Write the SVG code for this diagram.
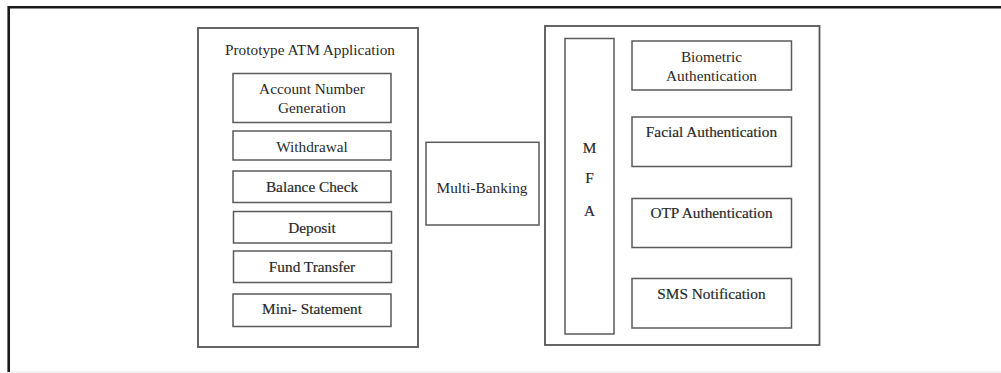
<svg xmlns="http://www.w3.org/2000/svg" width="1001" height="373" viewBox="0 0 1001 373">
  <style>
    .frame { fill: none; stroke: #1a1a1a; stroke-width: 2.6; }
    .panel { fill: #ffffff; stroke: #555555; stroke-width: 1.8; }
    .box { fill: #ffffff; stroke: #5a5a5a; stroke-width: 1.5; }
    .lbl { font-family: "Liberation Serif", "Times New Roman", serif; font-size: 15.3px; fill: #2a2a2a; text-anchor: middle; }
    .heavy { stroke: #2a2a2a; stroke-width: 0.2; }
  </style>
  <rect width="1001" height="373" fill="#ffffff"/>

  <!-- outer frame: top and left rule, faint bottom rule -->
  <g id="frame">
    <line x1="8.7" y1="7.2" x2="1001" y2="7.2" class="frame"/>
    <line x1="8.7" y1="6" x2="8.7" y2="372" class="frame"/>
    <line x1="10" y1="372" x2="1001" y2="372" stroke="#e6e6e6" stroke-width="1"/>
  </g>

  <!-- left panel: application features -->
  <g id="atm-app">
    <rect x="198" y="28" width="220" height="319" class="panel"/>
    <text x="310" y="55" class="lbl">Prototype ATM Application</text>
  </g>
  <g id="account-number">
    <rect x="233" y="73.5" width="158" height="49" class="box"/>
    <text x="312" y="94" class="lbl">Account Number</text>
    <text x="312" y="113" class="lbl">Generation</text>
  </g>
  <g id="withdrawal">
    <rect x="233" y="131" width="158" height="29" class="box"/>
    <text x="312" y="151.5" class="lbl">Withdrawal</text>
  </g>
  <g id="balance-check">
    <rect x="233" y="171" width="158" height="31.5" class="box"/>
    <text x="312" y="191.5" class="lbl heavy">Balance Check</text>
  </g>
  <g id="deposit">
    <rect x="233.5" y="211.5" width="158" height="31.5" class="box"/>
    <text x="312" y="233" class="lbl heavy">Deposit</text>
  </g>
  <g id="fund-transfer">
    <rect x="233.5" y="251" width="158" height="31.5" class="box"/>
    <text x="312" y="271.5" class="lbl heavy">Fund Transfer</text>
  </g>
  <g id="mini-statement">
    <rect x="233" y="294" width="158" height="32.5" class="box"/>
    <text x="312" y="314" class="lbl heavy">Mini- Statement</text>
  </g>

  <!-- middle -->
  <g id="multi-banking">
    <rect x="426" y="142.3" width="113" height="82.7" class="box"/>
    <text x="482" y="193" class="lbl">Multi-Banking</text>
  </g>

  <!-- right panel: multi-factor authentication -->
  <g id="security">
    <rect x="545" y="26" width="274.5" height="319" class="panel"/>
  </g>
  <g id="mfa">
    <rect x="565" y="38.5" width="49" height="295.5" class="box"/>
    <text x="589.5" y="153" class="lbl heavy">M</text>
    <text x="589.5" y="183" class="lbl heavy">F</text>
    <text x="589.5" y="215.5" class="lbl heavy">A</text>
  </g>
  <g id="biometric">
    <rect x="632" y="41" width="159.5" height="49" class="box"/>
    <text x="711.5" y="62" class="lbl">Biometric</text>
    <text x="711.5" y="81" class="lbl">Authentication</text>
  </g>
  <g id="facial">
    <rect x="632" y="117" width="159.5" height="49.5" class="box"/>
    <text x="711.5" y="137" class="lbl heavy">Facial Authentication</text>
  </g>
  <g id="otp">
    <rect x="632" y="198.5" width="159.5" height="49" class="box"/>
    <text x="711.5" y="217.5" class="lbl heavy">OTP Authentication</text>
  </g>
  <g id="sms">
    <rect x="632" y="278.5" width="159.5" height="49.5" class="box"/>
    <text x="711.5" y="298.5" class="lbl heavy">SMS Notification</text>
  </g>

  <!-- no connectors are drawn between the blocks -->
  <g id="connectors"/>
</svg>
